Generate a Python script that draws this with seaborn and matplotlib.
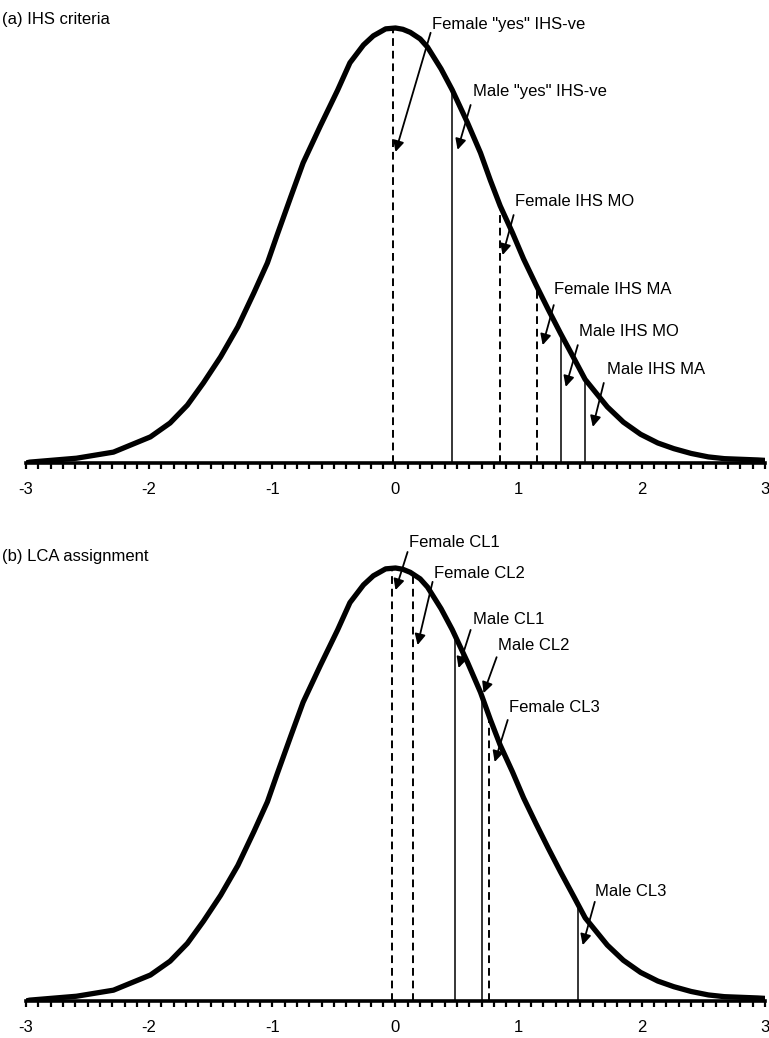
import seaborn as sns
import matplotlib.pyplot as plt
import numpy as np
import pandas as pd

# curve (x in SD units, height relative to the peak)
curve_x = [-3.0, -2.97, -2.59, -2.29, -1.99, -1.83, -1.69, -1.56, -1.42, -1.28, -1.15, -1.04, -0.96, -0.85,
           -0.75, -0.61, -0.47, -0.37, -0.26, -0.18, -0.08, 0.0, 0.06, 0.12, 0.20, 0.26, 0.37, 0.46, 0.585,
           0.69, 0.77, 0.85, 0.95, 1.04, 1.14, 1.24, 1.34, 1.45, 1.54, 1.72, 1.85, 1.99, 2.13, 2.26,
           2.40, 2.54, 2.67, 2.94, 3.0]
curve_h = [0.0, 0.002, 0.011, 0.025, 0.060, 0.092, 0.133, 0.184, 0.244, 0.313, 0.391, 0.460, 0.525, 0.612,
           0.690, 0.775, 0.857, 0.920, 0.961, 0.982, 0.998, 1.0, 0.997, 0.990, 0.975, 0.956, 0.906, 0.858, 0.782,
           0.713, 0.650, 0.591, 0.529, 0.469, 0.410, 0.353, 0.298, 0.240, 0.192, 0.129, 0.094, 0.066, 0.046, 0.033,
           0.022, 0.014, 0.010, 0.007, 0.006]

# panel (a) cut points
ihs_labels = ['Female "yes" IHS-ve', 'Male "yes" IHS-ve', 'Female IHS MO', 'Female IHS MA', 'Male IHS MO', 'Male IHS MA']
ihs_cuts = [-0.02, 0.46, 0.85, 1.15, 1.34, 1.54]
ihs_female = [True, False, True, True, False, False]

# panel (b) cut points
lca_labels = ["Female CL1", "Female CL2", "Male CL1", "Male CL2", "Female CL3", "Male CL3"]
lca_cuts = [-0.03, 0.14, 0.48, 0.70, 0.76, 1.48]
lca_female = [True, True, False, False, True, False]

# label placement: (text x, text y, arrow tail x, tail y, head x, head y) in data units
ihs_place = [(0.30, 1.007, 0.285, 0.989, 0.0, 0.715),
             (0.626, 0.853, 0.61, 0.823, 0.504, 0.72),
             (0.967, 0.602, 0.959, 0.570, 0.870, 0.478),
             (1.285, 0.398, 1.285, 0.363, 1.195, 0.271),
             (1.488, 0.303, 1.48, 0.271, 1.382, 0.175),
             (1.715, 0.216, 1.691, 0.184, 1.602, 0.083)]
lca_place = [(0.106, 1.058, 0.098, 1.037, 0.0, 0.949),
             (0.309, 0.988, 0.301, 0.968, 0.179, 0.822),
             (0.626, 0.880, 0.61, 0.857, 0.512, 0.769),
             (0.829, 0.822, 0.821, 0.794, 0.715, 0.711),
             (0.919, 0.677, 0.911, 0.649, 0.805, 0.552),
             (1.618, 0.252, 1.618, 0.229, 1.520, 0.129)]

sns.set_style("white")
plt.rcParams['font.family'] = ['Liberation Sans', 'DejaVu Sans']
plt.rcParams['axes.unicode_minus'] = False
plt.rcParams['text.color'] = 'black'
plt.rcParams['xtick.color'] = 'black'

fig = plt.figure(figsize=(7.69, 10.38), dpi=100)
ax_a = fig.add_axes([26 / 769, 1 - 463 / 1038, 739 / 769, 443 / 1038])
ax_b = fig.add_axes([26 / 769, 1 - 1001 / 1038, 739 / 769, 443 / 1038])

df = pd.DataFrame({"x": curve_x, "h": curve_h})


def draw_panel(ax, cuts, female, labels, place, ymax):
    sns.lineplot(data=df, x="x", y="h", ax=ax, color="black", lw=3.8, sort=False,
                 solid_capstyle="round", solid_joinstyle="round", zorder=3)
    tops = np.interp(cuts, curve_x, curve_h)
    for c, t, f in zip(cuts, tops, female):
        if f:
            ax.vlines(c, 0, t, color="black", lw=1.4, linestyles=(0, (4, 2.5)), zorder=2)
        else:
            ax.vlines(c, 0, t, color="black", lw=1.1, zorder=2)
    for lab, p in zip(labels, place):
        ax.text(p[0], p[1], lab, fontsize=12, ha="left", va="center", color="black")
        ax.annotate("", xy=(p[4], p[5]), xytext=(p[2], p[3]),
                    arrowprops=dict(arrowstyle="-|>", color="black", lw=1.3,
                                    mutation_scale=16, shrinkA=0, shrinkB=0))
    ax.set_xlim(-3, 3)
    ax.set_ylim(0, ymax)
    ax.set_xlabel("")
    ax.set_ylabel("")
    ax.set_yticks([])
    ax.set_xticks([-3, -2, -1, 0, 1, 2, 3])
    ax.set_xticklabels(["-3", "-2", "-1", "0", "1", "2", "3"])
    ax.set_xticks(np.arange(-3, 3.01, 0.1), minor=True)
    ax.tick_params(axis="x", which="both", direction="out", length=4.5, width=1.6,
                   color="black", bottom=True, labelsize=12, pad=9)
    sns.despine(ax=ax, left=True)
    ax.spines["bottom"].set_linewidth(2.6)
    ax.spines["bottom"].set_color("black")
    ax.patch.set_alpha(0)


draw_panel(ax_a, ihs_cuts, ihs_female, ihs_labels, ihs_place, 443 / 435)
draw_panel(ax_b, lca_cuts, lca_female, lca_labels, lca_place, 443 / 433)

fig.text(2 / 769, 1 - 19 / 1038, "(a) IHS criteria", fontsize=12, ha="left", va="center")
fig.text(2 / 769, 1 - 557 / 1038, "(b) LCA assignment", fontsize=12, ha="left", va="center")

fig.savefig("out.png", dpi=100)
